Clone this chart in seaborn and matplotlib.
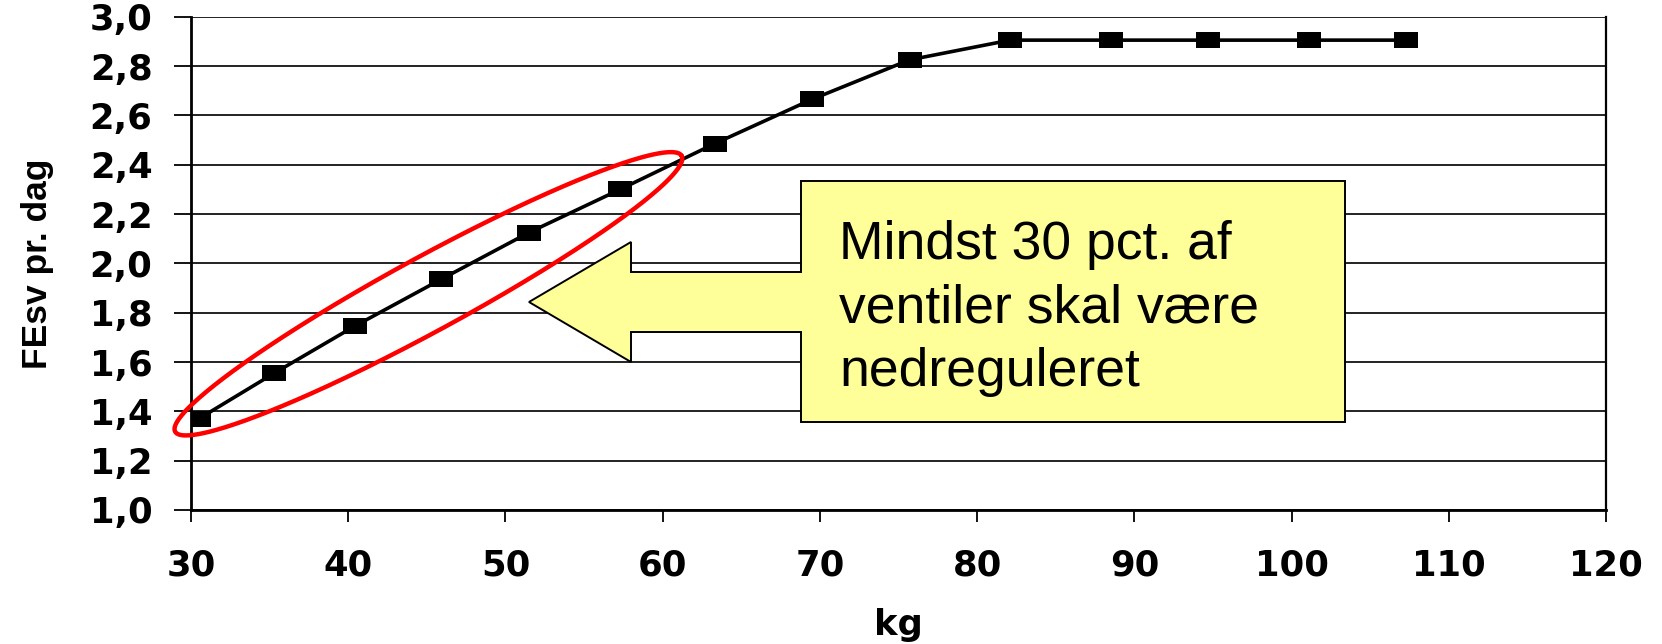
import numpy as np
import matplotlib
matplotlib.use("Agg")
import matplotlib.pyplot as plt
import seaborn as sns
from matplotlib.path import Path
from matplotlib.patches import Polygon

# ---- data ----
kg = [30.5, 35.3, 40.4, 45.9, 51.5, 57.3, 63.3, 69.5, 75.7, 82.1, 88.5, 94.7, 101.1, 107.3]
fesv = [1.37, 1.555, 1.745, 1.935, 2.125, 2.30, 2.485, 2.665, 2.825, 2.905, 2.905, 2.905, 2.905, 2.905]
x_ticks = [30, 40, 50, 60, 70, 80, 90, 100, 110, 120]
y_ticks = [1.0, 1.2, 1.4, 1.6, 1.8, 2.0, 2.2, 2.4, 2.6, 2.8, 3.0]
y_tick_labels = ["1,0", "1,2", "1,4", "1,6", "1,8", "2,0", "2,2", "2,4", "2,6", "2,8", "3,0"]
x_label = "kg"
y_label = "FEsv pr. dag"
note_lines = ["Mindst 30 pct. af", "ventiler skal være", "nedreguleret"]

sns.set_style("white")
plt.rcParams["font.family"] = ["DejaVu Sans"]
for k in ["text.color", "axes.labelcolor", "xtick.color", "ytick.color", "axes.edgecolor"]:
    plt.rcParams[k] = "black"

W, H = 1662, 644
fig = plt.figure(figsize=(W / 100, H / 100), dpi=100)
ax = fig.add_axes([191 / W, 1 - 510 / H, (1606 - 191) / W, (510 - 16.7) / H])

rect_marker = Path([(-1.5, -1), (1.5, -1), (1.5, 1), (-1.5, 1), (-1.5, -1)],
                   [Path.MOVETO, Path.LINETO, Path.LINETO, Path.LINETO, Path.CLOSEPOLY])

sns.lineplot(x=kg, y=fesv, ax=ax, color="black", linewidth=2.6, sort=False,
             estimator=None, marker=rect_marker, markersize=17.5,
             markerfacecolor="black", markeredgewidth=0, zorder=4)

ax.set_xlim(30, 120)
ax.set_ylim(1.0, 3.0)
ax.set_xticks(x_ticks)
ax.set_yticks(y_ticks)
ax.set_yticklabels(y_tick_labels)
ax.grid(axis="y", color="#111111", linewidth=1.3)
ax.grid(axis="x", visible=False)
ax.set_axisbelow(True)

for side, lw in [("left", 2.0), ("bottom", 2.0), ("right", 1.6)]:
    ax.spines[side].set_visible(True)
    ax.spines[side].set_color("black")
    ax.spines[side].set_linewidth(lw)
ax.spines["top"].set_visible(False)

ax.tick_params(axis="y", direction="out", length=12.2, width=1.3, color="black",
               pad=15.5, labelsize=25.5, left=True, labelcolor="black")
ax.tick_params(axis="x", direction="out", length=8.6, width=1.3, color="black",
               pad=19, labelsize=25.5, bottom=True, labelcolor="black")
for lab in ax.get_xticklabels() + ax.get_yticklabels():
    lab.set_fontweight("bold")

ax.set_xlabel(x_label, fontsize=25.5, fontweight="bold", color="black")
ax.xaxis.set_label_coords(0.5, -0.198)
ax.set_ylabel(y_label, fontsize=25.5, fontweight="bold", color="black",
              family=["Liberation Sans", "DejaVu Sans"], va="center")
ax.yaxis.set_label_coords((37.5 - 191) / 1415, 0.50)

# ---- red ellipse around the first six points (display coordinates) ----
p0 = ax.transData.transform((kg[0], fesv[0]))
p5 = ax.transData.transform((kg[5], fesv[5]))
u = (p5 - p0) / np.linalg.norm(p5 - p0)
n = np.array([-u[1], u[0]])
start = p0 - 27 * u
end = p5 + 70 * u
c = (start + end) / 2
a = np.linalg.norm(end - start) / 2
b = 37
t = np.linspace(0, 2 * np.pi, 400)
pts = c + np.outer(a * np.cos(t), u) + np.outer(b * np.sin(t), n)
dpts = ax.transData.inverted().transform(pts)
ax.plot(dpts[:, 0], dpts[:, 1], color="#FF0000", linewidth=3.2, clip_on=False, zorder=5)

# ---- yellow callout box with left arrow (figure pixel coords, y from top) ----
callout = [(801, 181), (1345, 181), (1345, 422), (801, 422), (801, 332), (631, 332),
           (631, 362), (529, 302), (631, 242), (631, 272), (801, 272)]
poly = Polygon([(x / W, 1 - y / H) for x, y in callout], closed=True,
               transform=fig.transFigure, facecolor="#FFFF99", edgecolor="black",
               linewidth=1.4, zorder=2)
fig.patches.append(poly)
for i, line in enumerate(note_lines):
    fig.text(839 / W, 1 - (259 + 63.5 * i) / H, line, fontsize=38.5, color="black",
             family=["Liberation Sans", "DejaVu Sans"],
             ha="left", va="baseline", zorder=3)

fig.savefig("out.png", dpi=100)
